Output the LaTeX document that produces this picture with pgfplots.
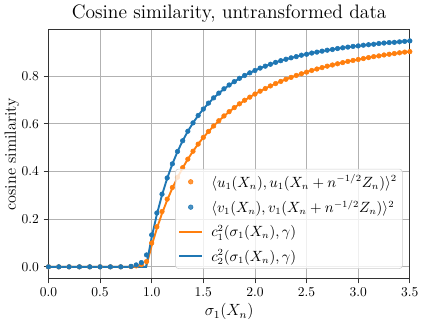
\documentclass[border=0pt]{standalone}
\usepackage{pgfplots}
\usepackage{pgfplotstable}
\pgfplotsset{compat=1.18}

\definecolor{tabblue}{HTML}{1F77B4}
\definecolor{taborange}{HTML}{FF7F0E}

\pgfplotsset{
  dotleg/.style={legend image code/.code={\draw[##1] plot coordinates {(8.5pt,0pt)};}},
  lineleg/.style={legend image code/.code={\draw[##1] (0pt,0pt) -- (17pt,0pt);}},
}

% empirical cosine similarities: sigma, u (orange), v (blue)
\pgfplotstableread{
s     u      v
0.00  0.000  0.000
0.10  0.000  0.000
0.20  0.000  0.000
0.30  0.000  0.000
0.40  0.000  0.000
0.50  0.000  0.000
0.60  0.000  0.000
0.70  0.000  0.000
0.80  0.001  0.002
0.85  0.004  0.008
0.90  0.009  0.018
0.95  0.022  0.050
1.00  0.100  0.134
1.05  0.168  0.226
1.10  0.232  0.305
1.15  0.284  0.373
1.20  0.333  0.432
1.25  0.376  0.484
1.30  0.416  0.529
1.35  0.452  0.569
1.40  0.485  0.604
1.45  0.515  0.635
1.50  0.543  0.662
1.55  0.568  0.687
1.60  0.591  0.709
1.65  0.613  0.729
1.70  0.633  0.747
1.75  0.651  0.763
1.80  0.668  0.777
1.85  0.684  0.791
1.90  0.699  0.803
1.95  0.712  0.814
2.00  0.725  0.824
2.05  0.737  0.834
2.10  0.748  0.842
2.15  0.759  0.850
2.20  0.769  0.858
2.25  0.778  0.865
2.30  0.787  0.871
2.35  0.795  0.877
2.40  0.803  0.882
2.45  0.810  0.888
2.50  0.817  0.892
2.55  0.824  0.897
2.60  0.830  0.901
2.65  0.836  0.905
2.70  0.842  0.909
2.75  0.847  0.912
2.80  0.852  0.916
2.85  0.857  0.919
2.90  0.862  0.922
2.95  0.866  0.925
3.00  0.870  0.927
3.05  0.874  0.930
3.10  0.878  0.932
3.15  0.882  0.934
3.20  0.885  0.937
3.25  0.889  0.939
3.30  0.892  0.941
3.35  0.895  0.942
3.40  0.898  0.944
3.45  0.901  0.946
3.50  0.903  0.948
}\dots

% limits c_1^2 (orange), c_2^2 (blue)
\pgfplotstableread{
s      c1      c2
0.000  0.0000  0.0000
0.900  0.0000  0.0000
0.946  0.0000  0.0000
0.950  0.0075  0.0106
1.000  0.0893  0.1242
1.050  0.1609  0.2201
1.100  0.2240  0.3015
1.150  0.2800  0.3713
1.200  0.3300  0.4314
1.250  0.3748  0.4835
1.300  0.4152  0.5290
1.350  0.4518  0.5688
1.400  0.4849  0.6038
1.450  0.5152  0.6348
1.500  0.5428  0.6624
1.600  0.5914  0.7090
1.700  0.6327  0.7466
1.800  0.6681  0.7774
1.900  0.6986  0.8029
2.000  0.7252  0.8243
2.100  0.7484  0.8423
2.200  0.7689  0.8577
2.300  0.7870  0.8710
2.400  0.8030  0.8824
2.500  0.8174  0.8924
2.600  0.8302  0.9012
2.700  0.8418  0.9089
2.800  0.8522  0.9157
2.900  0.8616  0.9218
3.000  0.8702  0.9273
3.100  0.8780  0.9322
3.200  0.8852  0.9366
3.300  0.8917  0.9406
3.400  0.8977  0.9442
3.500  0.9032  0.9475
}\limits

\begin{document}
\begin{tikzpicture}
\begin{axis}[
    scale only axis, width=267pt, height=184pt,
    xmin=0, xmax=3.5, ymin=-0.05, ymax=0.995,
    xtick={0,0.5,...,3.5}, ytick={0,0.2,0.4,0.6,0.8},
    xticklabel style={/pgf/number format/.cd, fixed, fixed zerofill, precision=1},
    yticklabel style={/pgf/number format/.cd, fixed, fixed zerofill, precision=1},
    tick align=outside, tick pos=left, major tick length=3.5pt,
    grid=major, grid style={line width=0.6pt, color=black!30},
    axis line style={black!80, line width=0.6pt},
    every tick/.style={black!80, line width=0.6pt},
    title={Cosine similarity, untransformed data},
    title style={font=\Large, yshift=-4pt},
    xlabel={$\sigma_1(X_n)$}, ylabel={cosine similarity},
    label style={font=\large},
    ylabel style={yshift=-5pt},
    xlabel style={yshift=2pt},
    legend style={at={(0.98,0.04)}, anchor=south east, draw=black!20,
        rounded corners=2pt, fill=white, fill opacity=0.8, text opacity=1,
        row sep=4pt, column sep=4pt, inner sep=2pt,
        font=\fontsize{10.5}{12.5}\selectfont},
    legend cell align=left,
]
\addplot[only marks, mark=*, mark size=1.7pt, color=taborange, dotleg] table[x=s, y=u] {\dots};
\addlegendentry{$\langle u_1(X_n), u_1(X_n+n^{-1/2}Z_n)\rangle^2$}
\addplot[only marks, mark=*, mark size=1.7pt, color=tabblue, dotleg] table[x=s, y=v] {\dots};
\addlegendentry{$\langle v_1(X_n), v_1(X_n+n^{-1/2}Z_n)\rangle^2$}
\addplot[no marks, line width=1.4pt, color=taborange, lineleg] table[x=s, y=c1] {\limits};
\addlegendentry{$c_1^2(\sigma_1(X_n),\gamma)$}
\addplot[no marks, line width=1.4pt, color=tabblue, lineleg] table[x=s, y=c2] {\limits};
\addlegendentry{$c_2^2(\sigma_1(X_n),\gamma)$}
\end{axis}
\end{tikzpicture}
\end{document}
